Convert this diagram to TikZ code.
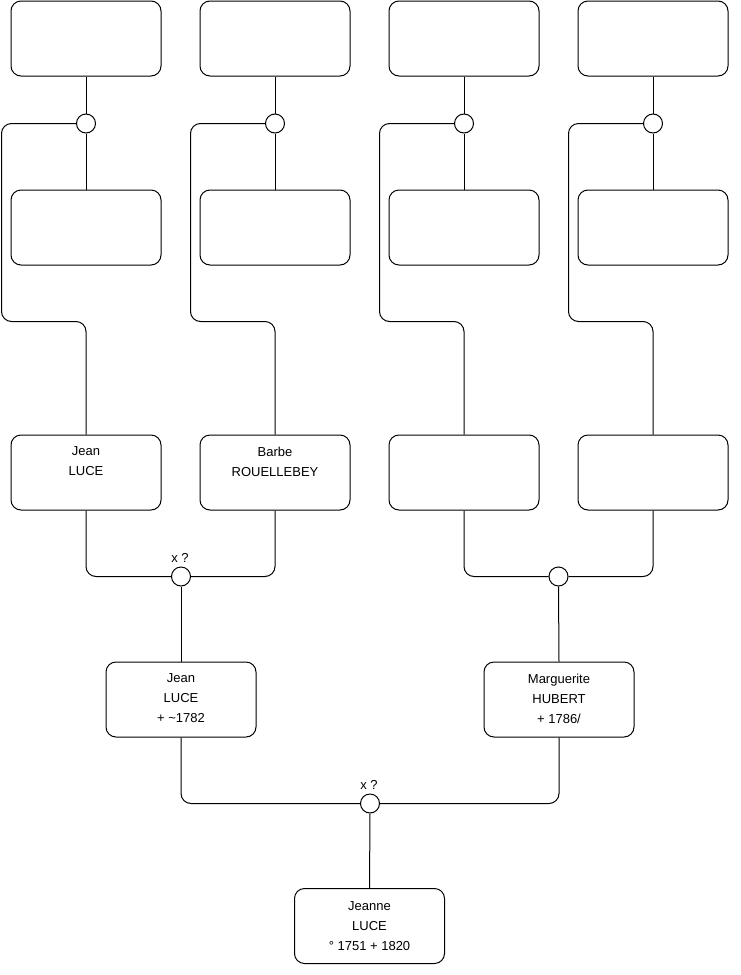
\documentclass[tikz,border=0pt]{standalone}
\usepackage{fontspec}
\setmainfont{Liberation Sans}
\begin{document}
\begin{tikzpicture}[x=1pt,y=-1pt,
  personbox/.style={draw=black,line width=1pt,rounded corners=10pt,minimum width=150pt,minimum height=75pt,inner sep=0pt,fill=white},
  txt/.style={inner sep=0pt,anchor=north,align=center,font=\fontsize{13}{20}\selectfont},
  union/.style={draw=black,line width=1pt,circle,minimum size=19pt,inner sep=0pt,fill=white},
  ulabel/.style={inner sep=0pt,anchor=south,font=\fontsize{13}{14}\selectfont},
  link/.style={draw=black,line width=1pt,rounded corners=10pt}
]
\useasboundingbox (0,0) rectangle (740,975);

% top row (great-grandparents)
\node[personbox] (t1) at (86,38.5) {};
\node[personbox] (t2) at (275,38.5) {};
\node[personbox] (t3) at (464,38.5) {};
\node[personbox] (t4) at (653,38.5) {};
% second row
\node[personbox] (s1) at (86,227.5) {};
\node[personbox] (s2) at (275,227.5) {};
\node[personbox] (s3) at (464,227.5) {};
\node[personbox] (s4) at (653,227.5) {};
% top unions
\node[union] (c1) at (86,123.5) {};
\node[union] (c2) at (275,123.5) {};
\node[union] (c3) at (464,123.5) {};
\node[union] (c4) at (653,123.5) {};
% third row (grandparents)
\node[personbox] (p1) at (86,472.5) {};
\node[personbox] (p2) at (275,472.5) {};
\node[personbox] (p3) at (464,472.5) {};
\node[personbox] (p4) at (653,472.5) {};
\node[txt] (p1t) at ([yshift=-12pt]p1.north) {Jean\\LUCE};
\node[txt] (p2t) at ([yshift=-12pt]p2.north) {Barbe\\ROUELLEBEY};
% middle unions
\node[union] (m1) at (181,576.5) {};
\node[union] (m2) at (558.5,576.5) {};
\node[ulabel] (m1l) at ([xshift=-1pt,yshift=3.5pt]m1.north) {x ?};
% parents
\node[personbox] (g1) at (181,699.5) {};
\node[personbox] (g2) at (559,699.5) {};
\node[txt] (g1t) at ([yshift=-12pt]g1.north) {Jean\\LUCE\\+ \textasciitilde1782};
\node[txt] (g2t) at ([yshift=-12pt]g2.north) {Marguerite\\HUBERT\\+ 1786/};
% bottom union
\node[union] (r) at (370,803.5) {};
\node[ulabel] (rl) at ([xshift=-1pt,yshift=3.5pt]r.north) {x ?};
% child
\node[personbox] (j) at (369.5,926) {};
\node[txt] (jt) at ([yshift=-13pt]j.north) {Jeanne\\LUCE\\\textdegree{} 1751 + 1820};

% corner coordinates of the side connectors
\coordinate (k1) at (1.5,321.5);
\coordinate (k2) at (190.5,321.5);
\coordinate (k3) at (379.5,321.5);
\coordinate (k4) at (568.5,321.5);

% connectors top
\foreach \i in {1,2,3,4}{
  \draw[link] (t\i.south) -- (c\i.north);
  \draw[link] (c\i.south) -- (s\i.north);
  \draw[link] (c\i.west) -| (k\i) -| (p\i.north);
}
% grandparents to unions
\draw[link] (p1.south) |- (m1.west);
\draw[link] (p2.south) |- (m1.east);
\draw[link] (p3.south) |- (m2.west);
\draw[link] (p4.south) |- (m2.east);
\draw[link] (m1.south) -- (g1.north);
\draw[link] (m2.south) -- (g2.north);
% parents to union
\draw[link] (g1.south) |- (r.west);
\draw[link] (g2.south) |- (r.east);
\draw[link] (r.south) -- (j.north);
\end{tikzpicture}
\end{document}
